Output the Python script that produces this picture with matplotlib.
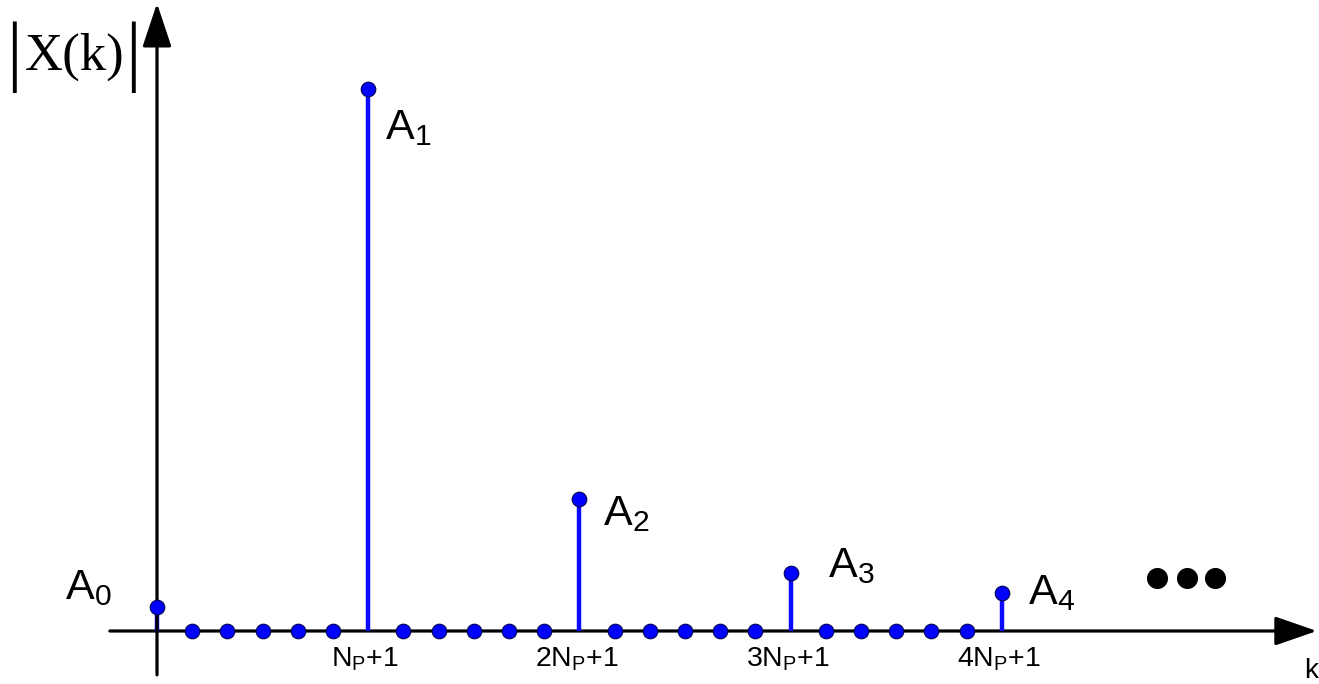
import matplotlib
matplotlib.use("Agg")
import matplotlib.pyplot as plt
from matplotlib.patches import FancyArrowPatch

plt.rcParams['mathtext.fontset'] = 'custom'
plt.rcParams['mathtext.rm'] = 'Liberation Sans'
plt.rcParams['mathtext.it'] = 'Liberation Sans'
plt.rcParams['font.family'] = ['Liberation Sans', 'DejaVu Sans']

# Spectrum samples |X(k)|, N_P = 5, harmonics at k = 0, N_P+1, 2N_P+1, ...
N_P = 5
k_values = list(range(0, 4 * (N_P + 1) + 1))
harmonic_k = [0, 6, 12, 18, 24]
harmonic_amp = [0.044, 1.0, 0.244, 0.107, 0.070]
harmonic_labels = ['A$_0$', 'A$_1$', 'A$_2$', 'A$_3$', 'A$_4$']
magnitude = [harmonic_amp[harmonic_k.index(k)] if k in harmonic_k else 0.0
             for k in k_values]

tick_k = [6, 12, 18, 24]
tick_labels = ['N$_\\mathrm{P}$+1', '2N$_\\mathrm{P}$+1',
               '3N$_\\mathrm{P}$+1', '4N$_\\mathrm{P}$+1']

# continuation dots
ellipsis_k = [28.4, 29.25, 30.05]
ellipsis_y = [0.098, 0.098, 0.098]

# label offsets (points) relative to each harmonic marker
label_offsets = [(-66, 14), (12, -28), (17, -11), (27, 5), (19, 0)]

fig = plt.figure(figsize=(13.19, 6.84), dpi=100)
ax = fig.add_axes([0, 0, 1, 1])
ax.set_xlim(-4.46, 33.01)
ax.set_ylim(-0.0978, 1.1642)
ax.axis('off')

# axes with arrowheads
x_axis = FancyArrowPatch((-1.34, 0), (32.95, 0),
                         arrowstyle='-|>,head_length=1.3,head_width=0.45',
                         mutation_scale=20, lw=2.3, color='black', zorder=1,
                         shrinkA=0, shrinkB=0)
y_axis = FancyArrowPatch((0, -0.081), (0, 1.158),
                         arrowstyle='-|>,head_length=1.35,head_width=0.45',
                         mutation_scale=20, lw=2.3, color='black', zorder=3,
                         shrinkA=0, shrinkB=0)
ax.add_patch(x_axis)
ax.add_patch(y_axis)

# stems
stem_k = [k for k, m in zip(k_values, magnitude) if m > 0]
stem_m = [m for m in magnitude if m > 0]
ax.vlines(stem_k, 0, stem_m, colors='#0a0aff', lw=3.2, zorder=2)

# sample markers
ax.plot(k_values, magnitude, linestyle='none', marker='o', markersize=10.5,
        markerfacecolor='#0000ff', markeredgecolor='#000050',
        markeredgewidth=0.8, zorder=4)

# harmonic labels
for k, a, lab, off in zip(harmonic_k, harmonic_amp, harmonic_labels, label_offsets):
    ax.annotate(lab, xy=(k, a), xytext=off, textcoords='offset points',
                fontsize=31, ha='left', va='center', zorder=5)

# tick labels under the axis
for k, lab in zip(tick_k, tick_labels):
    ax.annotate(lab, xy=(k, 0), xytext=(-2, -20), textcoords='offset points',
                fontsize=20.5, ha='center', va='center')

ax.scatter(ellipsis_k, ellipsis_y, s=200, color='black', zorder=4)

# y-axis title: |X(k)| with tall magnitude bars
serif = 'Liberation Serif'
ax.text(-3.76, 1.059, 'X(k)', fontsize=38, family=serif, ha='left', va='center')
ax.text(-4.06, 1.059, '|', fontsize=56, family=serif, ha='center', va='center')
ax.text(-0.68, 1.059, '|', fontsize=56, family=serif, ha='center', va='center')

ax.annotate('k', xy=(32.95, 0), xytext=(-4, -29), textcoords='offset points',
            fontsize=20, ha='center', va='center')

fig.savefig('out.png', dpi=100)
